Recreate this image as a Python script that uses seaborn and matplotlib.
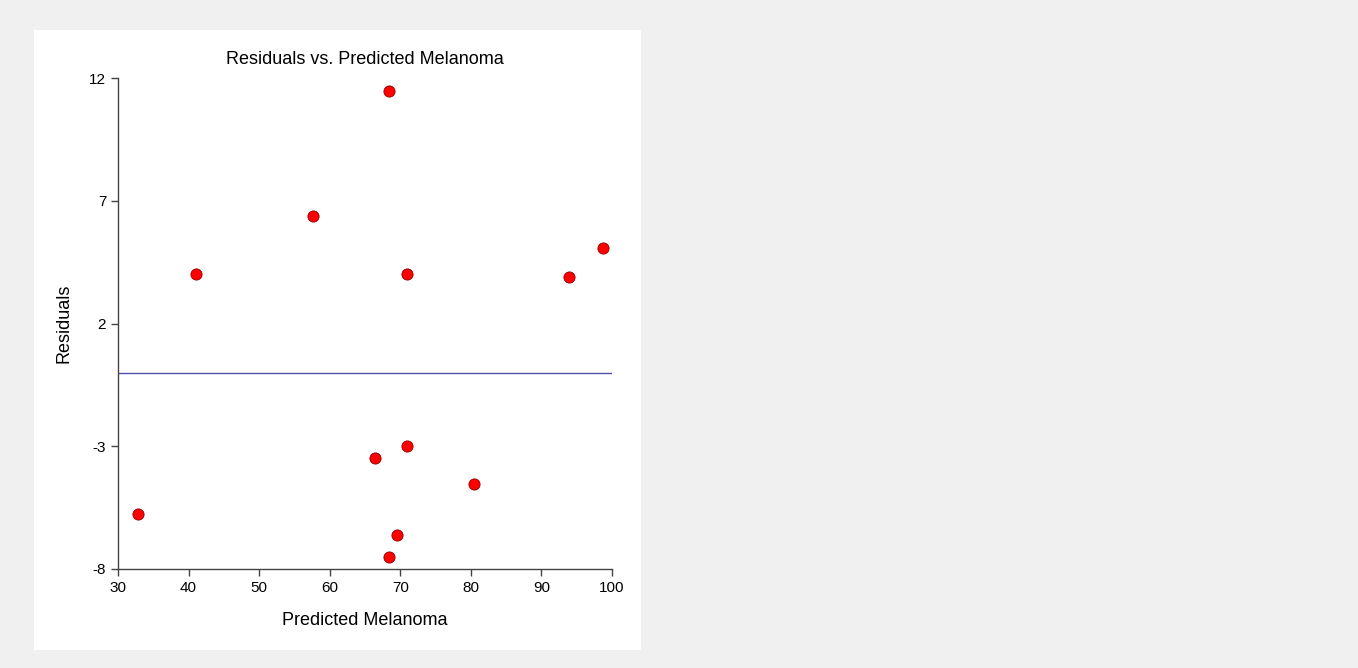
import numpy as np
import pandas as pd
import seaborn as sns
import matplotlib.pyplot as plt
from matplotlib.patches import Rectangle

# values
predicted = [68.4, 57.6, 41.05, 70.95, 93.9, 98.7, 66.4, 70.95, 80.4, 32.8, 69.5, 68.4]
residuals = [11.47, 6.38, 4.02, 4.02, 3.9, 5.08, -3.48, -2.99, -4.54, -5.76, -6.6, -7.5]
x_ticks = [30, 40, 50, 60, 70, 80, 90, 100]
y_ticks = [-8, -3, 2, 7, 12]

df = pd.DataFrame({"Predicted Melanoma": predicted, "Residuals": residuals})

sns.set_style("ticks")
plt.rcParams['font.family'] = ['Liberation Sans', 'DejaVu Sans']
plt.rcParams['axes.unicode_minus'] = False
plt.rcParams['text.color'] = 'black'
plt.rcParams['axes.labelcolor'] = 'black'

fig = plt.figure(figsize=(13.58, 6.68), dpi=100)
fig.patch.set_facecolor('#f0f0f0')
# white panel behind the chart (drawn below the axes)
fig.patches.append(Rectangle((34/1358, 1-650/668), (641-34)/1358, (650-30)/668,
                             transform=fig.transFigure, facecolor='white',
                             edgecolor='none', zorder=-5))

ax = fig.add_axes([118/1358, 1-569/668, (612-118)/1358, (569-78)/668])
ax.set_facecolor('none')

ax.axhline(0, color='#5050a8', lw=1.0, zorder=1)
sns.scatterplot(data=df, x="Predicted Melanoma", y="Residuals", ax=ax,
                color='#ff0000', edgecolor='#900000', linewidth=0.6, s=65,
                zorder=3, clip_on=False)

ax.set_xlim(30, 100)
ax.set_ylim(-8, 12)
ax.set_xticks(x_ticks)
ax.set_yticks(y_ticks)
ax.tick_params(axis='both', labelsize=11, length=5, width=1, color='#444444',
               labelcolor='black', pad=3.5)
for side in ['left', 'bottom']:
    ax.spines[side].set_color('#444444')
    ax.spines[side].set_linewidth(1)
sns.despine(ax=ax)

ax.set_title("Residuals vs. Predicted Melanoma", fontsize=13, pad=10, color='black')
ax.set_xlabel("Predicted Melanoma", fontsize=13, labelpad=12.5)
ax.set_ylabel("Residuals", fontsize=13, labelpad=12)

plt.savefig("out.png", dpi=100, facecolor=fig.get_facecolor())
